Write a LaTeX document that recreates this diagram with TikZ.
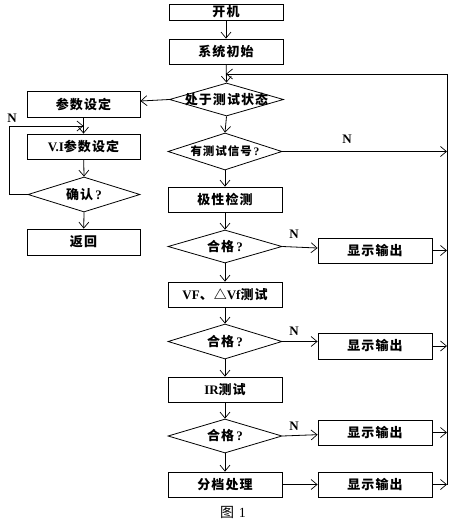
\documentclass[tikz,border=0pt]{standalone}
\usepackage{fontspec}
\usetikzlibrary{shapes.geometric,arrows.meta}
\newfontfamily\cjk{Noto Sans CJK SC}[LetterSpace=8]
\newfontfamily\cjkplain{Noto Sans CJK SC}
\newfontfamily\lat{Liberation Serif}
\newcommand\zh[1]{{\cjk\bfseries #1}}
\newcommand\en[1]{{\lat\bfseries #1}}
\newcommand\qm{\,{\lat\bfseries ?}}
\begin{document}
\begin{tikzpicture}[x=1pt,y=-1pt,
  every node/.style={font=\fontsize{13}{13}\selectfont},
  box/.style={draw,rectangle,minimum width=114pt,minimum height=25pt,inner sep=0pt,line width=0.8pt},
  dia/.style={draw,diamond,minimum width=114pt,minimum height=34pt,inner sep=0pt,line width=0.8pt},
  arr/.style={line width=0.8pt,-{Straight Barb[length=6pt,width=10pt,line width=0.7pt]}},
  ln/.style={line width=0.8pt},
  nlab/.style={font=\fontsize{13}{13}\selectfont\lat\bfseries}
]
\useasboundingbox (0,0) rectangle (457,525);
% main column
\node[box,minimum height=16pt] (kj) at (226,12) {\zh{开机}};
\node[box] (xt) at (226,51.5) {\zh{系统初始}};
\node[dia,minimum height=33pt,label={center:\zh{处于测试状态}}] (d1) at (226.5,99.5) {};
\node[dia,minimum height=37pt,label={center:{\fontsize{11.5}{11.5}\selectfont\zh{有测试信号}\qm}}] (d2) at (225,151.5) {};
\node[box] (jx) at (225,199.5) {\zh{极性检测}};
\node[dia,minimum height=33pt,label={center:\zh{合格}\qm}] (d3) at (225,246.5) {};
\node[box] (vf) at (225,294.5) {\en{VF}\zh{、△}\en{Vf}\zh{测试}};
\node[dia,minimum height=35pt,label={center:\zh{合格}\qm}] (d4) at (225,341.5) {};
\node[box] (ir) at (225,389.5) {\en{IR}\zh{测试}};
\node[dia,minimum height=34pt,label={center:\zh{合格}\qm}] (d5) at (225,436) {};
\node[box] (fd) at (225,484.5) {\zh{分档处理}};
% outputs
\node[box] (o1) at (375,250.5) {\zh{显示输出}};
\node[box,minimum height=26pt] (o2) at (375,346) {\zh{显示输出}};
\node[box] (o3) at (375,432.5) {\zh{显示输出}};
\node[box] (o4) at (375,484.5) {\zh{显示输出}};
% left column
\node[box,minimum width=113pt,minimum height=26pt] (cs) at (83.5,104) {\zh{参数设定}};
\node[box,minimum width=113pt] (vi) at (83.5,146.5) {\en{V.I}\zh{参数设定}};
\node[dia,minimum width=112pt,minimum height=35pt,label={center:\zh{确认}\qm}] (d6) at (84,194.5) {};
\node[box,minimum width=113pt,minimum height=26pt] (fh) at (83.5,242) {\zh{返回}};
% coordinates
\coordinate (j1) at (226,74);
\coordinate (r0) at (447,74);
\coordinate (r1) at (447,151.5);
\coordinate (r2) at (447,250.5);
\coordinate (r3) at (447,346);
\coordinate (r4) at (447,432.5);
\coordinate (r5) at (447,484.5);
\coordinate (l0) at (9,194.5);
\coordinate (l1) at (9,126);
\coordinate (j2) at (83.5,126);
% connectors main
\draw[arr] (kj) -- (xt);
\draw[arr] (xt) -- (d1.north);
\draw[arr] (d1.south) -- (d2.north);
\draw[arr] (d2.south) -- (jx);
\draw[arr] (jx) -- (d3.north);
\draw[arr] (d3.south) -- (vf);
\draw[arr] (vf) -- (d4.north);
\draw[arr] (d4.south) -- (ir);
\draw[arr] (ir) -- (d5.north);
\draw[arr] (d5.south) -- (fd);
% N branches
\draw[arr] (d2.east) -- (r1);
\draw[arr] (d3.east) -- (o1);
\draw[arr] (d4.east) -- (d4.east -| o2.west);
\draw[arr] (d5.east) -- (o3);
\draw[arr] (fd) -- (o4);
\draw[arr] (o1) -- (r2);
\draw[arr] (o2) -- (r3);
\draw[arr] (o3) -- (r4);
\draw[arr] (o4) -- (r5);
\draw[ln] (r5) -- (r0);
\draw[arr] (r0) -- (j1);
% left
\draw[arr] (d1.west) -- (cs);
\draw[arr] (cs) -- (vi);
\draw[arr] (vi) -- (d6.north);
\draw[arr] (d6.south) -- (fh);
\draw[arr] (d6.west) -- (l0) -- (l1) -- (j2);
% labels
\node[nlab] (n1) at (347,139) {N};
\node[nlab] (n2) at (294,234) {N};
\node[nlab] (n3) at (294,331) {N};
\node[nlab] (n4) at (294,426) {N};
\node[nlab] (n5) at (12,118) {N};
\node[font=\fontsize{14}{14}\selectfont] (cap) at (233,512) {{\cjkplain 图} {\lat 1}};
\end{tikzpicture}
\end{document}
